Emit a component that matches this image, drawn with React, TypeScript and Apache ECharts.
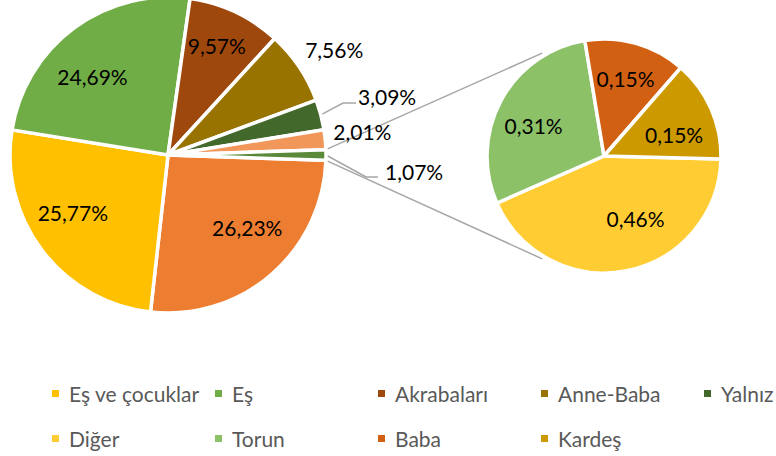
import React, { useEffect, useRef } from "react";
import * as echarts from "echarts";

// ---------- data ----------
const mainNames = ["Kategori A", "Eş ve çocuklar", "Eş", "Akrabaları", "Anne-Baba", "Yalnız", "Kategori B"];
const mainValues = [26.23, 25.77, 24.69, 9.57, 7.56, 3.09, 2.01];
const subNames = ["Diğer", "Torun", "Baba", "Kardeş"];
const subValues = [0.46, 0.31, 0.15, 0.15];
const otherName = "Diğer grup";
const legendRow1 = ["Eş ve çocuklar", "Eş", "Akrabaları", "Anne-Baba", "Yalnız"];
const legendRow2 = ["Diğer", "Torun", "Baba", "Kardeş"];

// ---------- styles / layout ----------
const mainColors = ["#ED7D31", "#FFC000", "#70AD47", "#9E480E", "#997300", "#43682B", "#F1975A"];
const subColors = ["#FFCD33", "#8CC168", "#D26012", "#CC9A00"];
const otherColor = "#5A8A39";
const FONT = "Lato";
const MAIN_C = [168, 155];
const MAIN_R = 158;
const SUB_C = [604, 156];
const SUB_R = 117;
const SUB_START = -1.5;
const CONN_ANGLE = 121;
const LINE_COLOR = "#A6A6A6";

const fmt = (v: number) => v.toFixed(2).replace(".", ",") + "%";

// label nudges (pixel offsets) for Excel-like label placement
const mainLabelNudge: Record<number, { dx: number; dy: number; lineDy?: number }> = {
  4: { dx: 1, dy: -17 },
  5: { dx: -3, dy: -12, lineDy: -6 },
  6: { dx: 3, dy: -8 },
  7: { dx: 2, dy: 16, lineDy: 22 },
};
const mainInsideNudge: Record<number, { dx: number; dy: number }> = {
  0: { dx: 6, dy: -12 },
  1: { dx: -6, dy: -10 },
  2: { dx: -9, dy: 12 },
  3: { dx: 1, dy: -8 },
};
const subInsideNudge: Record<number, { dx: number; dy: number }> = {
  0: { dx: 17, dy: -12 },
  1: { dx: -4, dy: 5 },
  2: { dx: 1, dy: -5 },
  3: { dx: 1, dy: 9 },
};

export default function App() {
  const ref = useRef<HTMLDivElement>(null);
  useEffect(() => {
    document.body.style.margin = "0";
    const chart = echarts.init(ref.current!, null, { renderer: "svg" });

    const otherValue = subValues.reduce((a, b) => a + b, 0);
    const total = mainValues.reduce((a, b) => a + b, 0) + otherValue;
    const halfDeg = (otherValue / total) * 180;
    const mainStart = -halfDeg;

    const labelBase = { fontFamily: FONT, fontSize: 21, color: "#000" };

    const mainData = mainNames.map((n, i) => {
      const outside = i >= 4;
      const withLine = i === 5;
      return {
        name: n,
        value: mainValues[i],
        itemStyle: { color: mainColors[i] },
        label: { show: outside, position: "outside" },
        labelLine: withLine
          ? { show: true, length: 23, length2: 13 }
          : { show: false, length: 0, length2: 0 },
      };
    });
    mainData.push({
      name: otherName,
      value: otherValue,
      itemStyle: { color: otherColor },
      label: { show: true, position: "outside" },
      labelLine: { show: true, length: 40, length2: 12 },
    });

    const overlayMain = mainData.map((d, i) => ({
      name: d.name,
      value: d.value,
      itemStyle: { color: "transparent" },
      label: { show: i < 4 },
    }));

    const subData = subNames.map((n, i) => ({
      name: n,
      value: subValues[i],
      itemStyle: { color: subColors[i] },
    }));
    const overlaySub = subNames.map((n, i) => ({
      name: n,
      value: subValues[i],
      itemStyle: { color: "transparent" },
    }));

    const rad = (d: number) => (d * Math.PI) / 180;
    const mainPt = (deg: number) => [
      MAIN_C[0] + MAIN_R * Math.cos(rad(deg)),
      MAIN_C[1] - MAIN_R * Math.sin(rad(deg)),
    ];
    const subPt = (deg: number) => [
      SUB_C[0] + (SUB_R + 3) * Math.cos(rad(deg)),
      SUB_C[1] - (SUB_R + 3) * Math.sin(rad(deg)),
    ];
    const a1 = mainPt(halfDeg), a2 = mainPt(-halfDeg);
    const b1 = subPt(CONN_ANGLE), b2 = subPt(-CONN_ANGLE);

    const legends: any[] = [];
    const colX = [50, 213, 376, 539, 702];
    const addRow = (names: string[], top: number) => {
      names.forEach((n, i) => {
        legends.push({
          data: [n],
          left: colX[i],
          top,
          padding: 0,
          icon: "rect",
          itemWidth: 9,
          itemHeight: 9,
          selectedMode: false,
          textStyle: {
            fontFamily: FONT,
            fontSize: 21,
            color: "#595959",
            lineHeight: 24,
            padding: [0, 0, 0, 4],
          },
        });
      });
    };
    addRow(legendRow1, 381.5);
    addRow(legendRow2, 426.5);

    chart.setOption({
      animation: false,
      backgroundColor: "#fff",
      legend: legends,
      graphic: [
        { type: "line", shape: { x1: a1[0], y1: a1[1], x2: b1[0], y2: b1[1] }, style: { stroke: LINE_COLOR, lineWidth: 1.5 } },
        { type: "line", shape: { x1: a2[0], y1: a2[1], x2: b2[0], y2: b2[1] }, style: { stroke: LINE_COLOR, lineWidth: 1.5 } },
      ],
      series: [
        {
          type: "pie",
          center: MAIN_C,
          radius: MAIN_R,
          startAngle: mainStart,
          clockwise: true,
          avoidLabelOverlap: false,
          silent: true,
          itemStyle: { borderColor: "#fff", borderWidth: 3.5 },
          label: { ...labelBase, formatter: (p: any) => fmt(p.value), distanceToLabelLine: 5 },
          labelLine: { lineStyle: { color: LINE_COLOR, width: 1.5 } },
          labelLayout: (p: any) => {
            const n = mainLabelNudge[p.dataIndex];
            if (!n) return {};
            const out: any = { dx: n.dx, dy: n.dy };
            if (n.lineDy && p.labelLinePoints) {
              const pts = p.labelLinePoints;
              out.labelLinePoints = [
                [pts[0][0], pts[0][1]],
                [pts[1][0], pts[1][1] + n.lineDy],
                [pts[2][0], pts[2][1] + n.lineDy],
              ];
            }
            return out;
          },
          data: mainData,
        },
        {
          type: "pie",
          center: SUB_C,
          radius: SUB_R,
          startAngle: SUB_START,
          clockwise: true,
          silent: true,
          itemStyle: { borderColor: "#fff", borderWidth: 3.5 },
          label: { show: false },
          data: subData,
        },
        {
          type: "pie",
          center: MAIN_C,
          radius: [60, MAIN_R],
          startAngle: mainStart,
          clockwise: true,
          silent: true,
          avoidLabelOverlap: false,
          legendHoverLink: false,
          label: { ...labelBase, position: "inside", formatter: (p: any) => fmt(p.value) },
          labelLine: { show: false },
          labelLayout: (p: any) => mainInsideNudge[p.dataIndex] || {},
          data: overlayMain,
        },
        {
          type: "pie",
          center: SUB_C,
          radius: [28, SUB_R],
          startAngle: SUB_START,
          clockwise: true,
          silent: true,
          avoidLabelOverlap: false,
          legendHoverLink: false,
          label: { ...labelBase, show: true, position: "inside", formatter: (p: any) => fmt(p.value) },
          labelLine: { show: false },
          labelLayout: (p: any) => subInsideNudge[p.dataIndex] || {},
          data: overlaySub,
        },
      ],
    });
    return () => chart.dispose();
  }, []);
  return <div ref={ref} style={{ width: 776, height: 456 }} />;
}
